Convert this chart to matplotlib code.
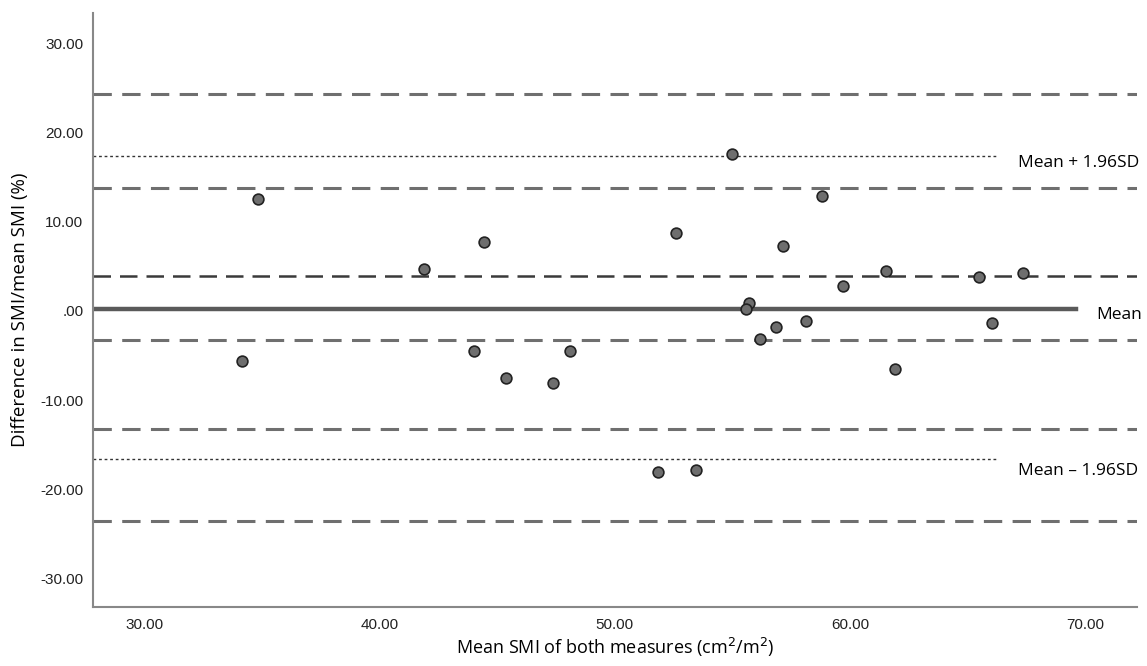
import matplotlib.pyplot as plt
import numpy as np

# Bland-Altman style plot: mean SMI vs % difference
mean_smi = [34.83, 41.87, 34.15, 54.99, 44.42, 52.61, 57.15, 55.70, 55.56,
            56.84, 56.18, 44.02, 48.08, 45.38, 47.36, 58.81, 59.71, 61.54,
            65.47, 67.35, 58.14, 66.02, 61.90, 51.83, 53.45]
diff_pct = [12.59, 4.71, -5.60, 17.60, 7.77, 8.71, 7.25, 0.86, 0.26,
            -1.83, -3.14, -4.52, -4.52, -7.47, -8.04, 12.93, 2.80, 4.52,
            3.85, 4.22, -1.09, -1.31, -6.50, -18.1, -17.8]

mean_diff = 0.19
loa_upper = 17.38
loa_lower = -16.6
ci_dashed = [24.3, 13.82, -13.2, -23.6]   # CI bands of the limits
ci_mean = [3.92, -3.25]                   # CI band of the mean

fig = plt.figure(figsize=(11.47, 6.66), dpi=100)
ax = fig.add_axes([0.0811, 0.0886, 0.9102, 0.8919])

xmin, xmax = 27.81, 72.2
ax.set_xlim(xmin, xmax)
ax.set_ylim(-33.2, 33.4)

for y in ci_dashed:
    ax.plot([xmin, xmax], [y, y], color='#6f6f6f', lw=2.2, dashes=(6, 3.4), zorder=1)
for y in ci_mean:
    ax.plot([xmin, xmax], [y, y], color='#3a3a3a' if y > 0 else '#6f6f6f',
            lw=1.8 if y > 0 else 2.2, dashes=(7, 3.6) if y > 0 else (6, 3.4), zorder=1)
for y in [loa_upper, loa_lower]:
    ax.plot([xmin, 66.25], [y, y], color='#333333', lw=1.0, dashes=(2, 2), zorder=1)
ax.plot([xmin, 69.6], [mean_diff, mean_diff], color='#5a5a5a', lw=3.2, zorder=1)

ax.scatter(mean_smi, diff_pct, s=60, facecolor='#6e6e6e', edgecolor='#222222',
           linewidth=1.2, zorder=3)

tfont = ['Open Sans', 'DejaVu Sans']
ax.text(67.14, 16.6, 'Mean + 1.96SD', fontsize=12.5, family=tfont, va='center', ha='left')
ax.text(70.45, -0.45, 'Mean', fontsize=12.5, family=tfont, va='center', ha='left')
ax.text(67.14, -18.0, 'Mean \u2013 1.96SD', fontsize=12.5, family=tfont, va='center', ha='left')

xt = [30, 40, 50, 60, 70]
yt = [-30, -20, -10, 0, 10, 20, 30]
ax.set_xticks(xt)
ax.set_xticklabels(['%.2f' % v for v in xt])
ax.set_yticks(yt)
ax.set_yticklabels(['.00' if v == 0 else '%.2f' % v for v in yt])
ax.tick_params(length=0, labelsize=11, colors='#222222')
ax.tick_params(axis='x', pad=8)
ax.tick_params(axis='y', pad=7)
for lab in ax.get_xticklabels() + ax.get_yticklabels():
    lab.set_family('Liberation Sans')

ax.set_xlabel('Mean SMI of both measures (cm$^2$/m$^2$)', fontsize=13, family=tfont, labelpad=3)
ax.set_ylabel('Difference in SMI/mean SMI (%)', fontsize=13.5, family=tfont, labelpad=8)

for s in ['top', 'right']:
    ax.spines[s].set_visible(False)
for s in ['left', 'bottom']:
    ax.spines[s].set_color('#888888')
    ax.spines[s].set_linewidth(1.5)

fig.savefig('out.png', dpi=100)
